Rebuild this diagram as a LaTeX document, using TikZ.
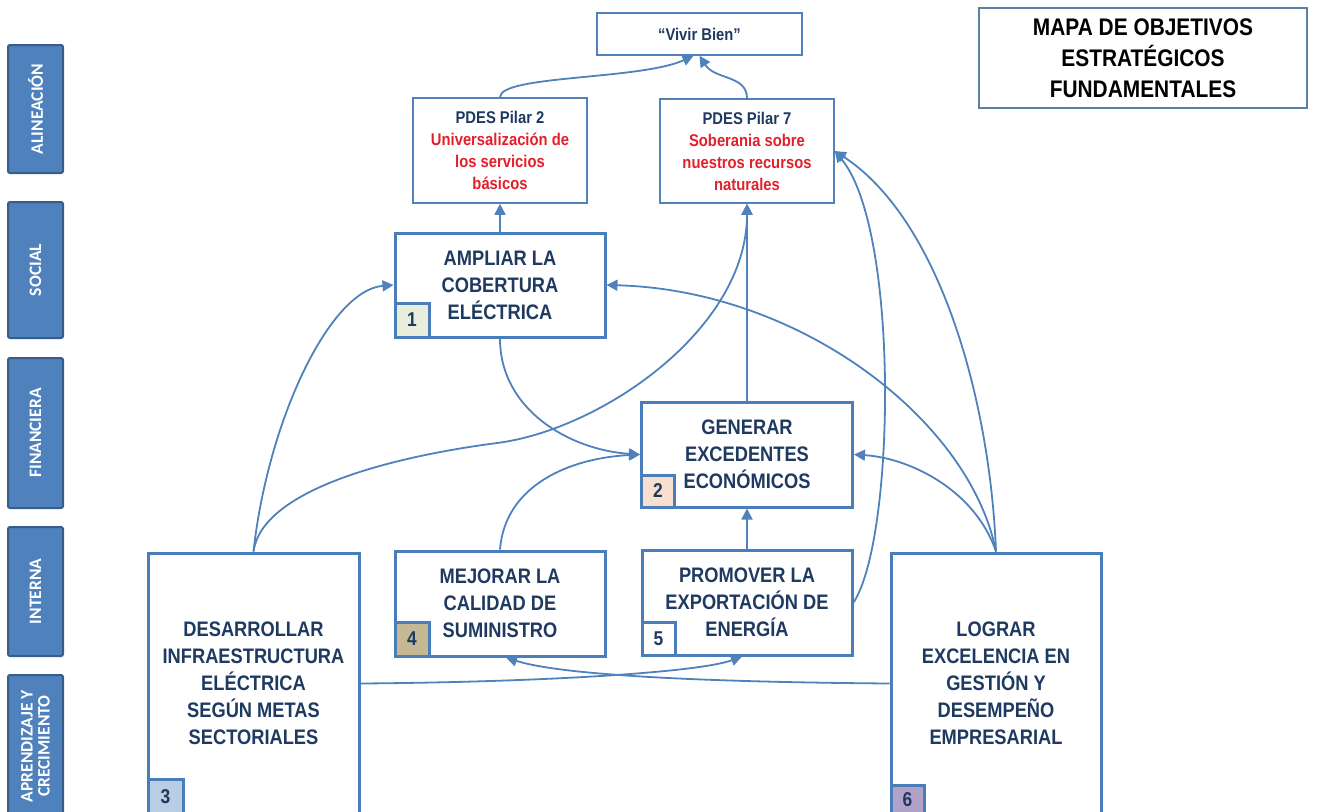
\documentclass[tikz,border=0pt]{standalone}
\usepackage{fontspec}
\setmainfont[FakeStretch=0.87]{Liberation Sans}
\newfontfamily\sidefont{Carlito}
\usetikzlibrary{arrows.meta}
\definecolor{navy}{HTML}{1F3A60}
\definecolor{pdesred}{HTML}{E3202A}
\definecolor{boxblue}{HTML}{4A7EBB}
\definecolor{linkblue}{HTML}{4F81BD}
\definecolor{sideblue}{HTML}{4F81BD}
\definecolor{sideedge}{HTML}{385D8A}
\definecolor{mapedge}{HTML}{5B7FA6}
\definecolor{numA}{HTML}{E9EDDC}
\definecolor{numB}{HTML}{F9DFCF}
\definecolor{numC}{HTML}{B9CDE5}
\definecolor{numD}{HTML}{C4B993}
\definecolor{numF}{HTML}{B3A2C7}
\begin{document}
\begin{tikzpicture}[x=1pt,y=-1pt,
  objbox/.style={draw=boxblue,line width=3pt,fill=white,text=navy,align=center,inner sep=0pt,
    font=\bfseries\fontsize{21}{27}\selectfont,minimum width=210pt,minimum height=105pt},
  thinbox/.style={draw=linkblue,line width=1.6pt,fill=white,text=navy,align=center,inner sep=0pt,
    font=\bfseries\fontsize{17}{22}\selectfont},
  numbox/.style={draw=boxblue,line width=3pt,text=navy,inner sep=0pt,
    font=\bfseries\fontsize{20}{24}\selectfont,minimum width=34pt,minimum height=34pt,anchor=south west},
  sidebar/.style={draw=sideedge,fill=sideblue,line width=2pt,rounded corners=2pt,rotate=90,
    text=white,align=center,inner sep=0pt,font=\sidefont\bfseries\fontsize{17.5}{17}\selectfont,
    minimum height=55pt},
  link/.style={draw=linkblue,line width=1.8pt,-{Triangle[length=11pt,width=11pt]}}
]
\useasboundingbox (0,0) rectangle (1321,811);
\clip (0,0) rectangle (1321,811);

% side bars
\node[sidebar,minimum width=128pt] (sAl) at (35.5,109) {ALINEACIÓN};
\node[sidebar,minimum width=136pt] (sSo) at (35.5,270) {SOCIAL};
\node[sidebar,minimum width=150pt] (sFi) at (35.5,433) {FINANCIERA};
\node[sidebar,minimum width=129pt] (sIn) at (35.5,591.5) {INTERNA};
\node[sidebar,minimum width=142pt] (sAp) at (35.5,746) {APRENDIZAJE Y\\CRECIMIENTO};

% title
\node[draw=mapedge,line width=1.2pt,fill=white,text=black,align=center,inner sep=0pt,
  font=\bfseries\fontsize{24}{31}\selectfont,minimum width=328pt,minimum height=100pt]
  (mapa) at (1143,58) {MAPA DE OBJETIVOS\\ESTRATÉGICOS\\FUNDAMENTALES};

% alignment boxes
\node[thinbox,minimum width=205pt,minimum height=42pt] (vivir) at (699.5,34) {“Vivir Bien”};
\node[thinbox,minimum width=174pt,minimum height=105pt] (pilar2) at (500,150.5)
  {PDES Pilar 2\\\textcolor{pdesred}{Universalización de}\\\textcolor{pdesred}{los servicios}\\\textcolor{pdesred}{básicos}};
\node[thinbox,minimum width=174pt,minimum height=104pt] (pilar7) at (747,151)
  {PDES Pilar 7\\\textcolor{pdesred}{Soberania sobre}\\\textcolor{pdesred}{nuestros recursos}\\\textcolor{pdesred}{naturales}};

% objective boxes
\node[objbox,minimum height=104pt] (ampliar) at (500,285) {AMPLIAR LA\\COBERTURA\\ELÉCTRICA};
\node[objbox,minimum width=211pt] (generar) at (747,454.5) {GENERAR\\EXCEDENTES\\ECONÓMICOS};
\node[objbox,minimum width=211pt,minimum height=261pt] (desarrollar) at (253.5,683.5)
  {DESARROLLAR\\INFRAESTRUCTURA\\ELÉCTRICA\\SEGÚN METAS\\SECTORIALES};
\node[objbox] (mejorar) at (500,603.5) {MEJORAR LA\\CALIDAD DE\\SUMINISTRO};
\node[objbox] (promover) at (747,602.5) {PROMOVER LA\\EXPORTACIÓN DE\\ENERGÍA};
\node[objbox,minimum height=261pt] (lograr) at (996,683.5)
  {LOGRAR\\EXCELENCIA EN\\GESTIÓN Y\\DESEMPEÑO\\EMPRESARIAL};

% number boxes
\node[numbox,fill=numA] (n1) at (ampliar.south west) {1};
\node[numbox,fill=numB,minimum width=33pt,minimum height=32pt] (n2) at (generar.south west) {2};
\node[numbox,fill=numC,minimum width=35pt,minimum height=35pt] (n3) at (desarrollar.south west) {3};
\node[numbox,fill=numD] (n4) at (mejorar.south west) {4};
\node[numbox,fill=white,minimum width=33pt,minimum height=33pt] (n5) at (promover.south west) {5};
\node[numbox,fill=numF,minimum width=33pt,minimum height=29pt] (n6) at (lograr.south west) {6};

% connectors
\draw[link] (pilar2.north) .. controls (500,75) and (640,80) .. ([xshift=-6pt]vivir.south);
\draw[link] (pilar7.north) .. controls (747,75) and (715,80) .. (vivir.south);
\draw[link] (ampliar.north) -- (pilar2.south);
\draw[link] (generar.north) -- (pilar7.south);
\draw[link] (desarrollar.north) .. controls (262,490) and (390,457) .. (497,443)
  .. controls (600,430) and (747,330) .. (pilar7.south);
\draw[link] (desarrollar.north) .. controls (268,420) and (330,290) .. (ampliar.west);
\draw[link] (ampliar.south) .. controls (500,410) and (570,450) .. (generar.west);
\draw[link] (mejorar.north) .. controls (505,485) and (570,458) .. (generar.west);
\draw[link] (promover.north) -- (generar.south);
\draw[link] (promover.east) .. controls (895,540) and (900,230) .. (pilar7.east);
\draw[link] (lograr.north) .. controls (990,400) and (940,220) .. (pilar7.east);
\draw[link] (lograr.north) .. controls (970,420) and (800,290) .. (ampliar.east);
\draw[link] (lograr.north) .. controls (975,490) and (910,458) .. (generar.east);
\draw[link] (desarrollar.east) .. controls (550,682) and (700,672) .. ([xshift=-5pt]promover.south);
\draw[link] (lograr.west) .. controls (700,682) and (560,675) .. ([xshift=6pt]mejorar.south);
\end{tikzpicture}
\end{document}
